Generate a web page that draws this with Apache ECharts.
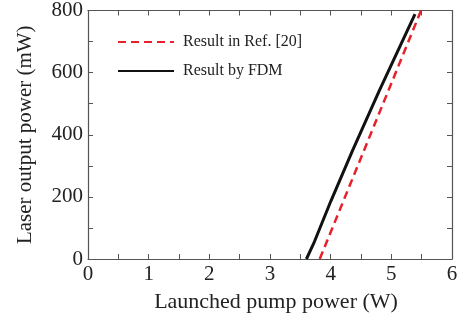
<!DOCTYPE html>
<html>
<head>
<meta charset="utf-8">
<script src="https://cdn.jsdelivr.net/npm/echarts@6/dist/echarts.min.js"></script>
<style>
  html,body{margin:0;padding:0;background:#fff;}
  #chart{width:469px;height:320px;}
</style>
</head>
<body>
<div id="chart"></div>
<script>
  // data
  const refPts = [[3.82, 0], [5.49, 800]];
  const fdmPts = [[3.60, 0], [3.72, 50], [4.00, 185], [4.36, 349], [4.80, 541], [5.39, 788]];
  const seriesNames = ['Result in Ref. [20]', 'Result by FDM'];
  const xName = 'Launched pump power (W)';
  const yName = 'Laser output power (mW)';

  const font = '"Liberation Serif", "DejaVu Serif", serif';
  const axisCol = '#555';

  const chart = echarts.init(document.getElementById('chart'));
  const tick = {show:true, inside:true, length:5, lineStyle:{color:axisCol, width:1}};
  const line = {show:true, onZero:false, lineStyle:{color:axisCol, width:1.2}};

  chart.setOption({
    animation:false,
    grid:{left:88, right:17, top:9, bottom:61},
    legend:{
      orient:'vertical', left:112, top:29, itemWidth:56, itemHeight:14, itemGap:13,
      itemStyle:{opacity:0},
      textStyle:{fontFamily:font, fontSize:16, color:'#222', padding:[0,0,0,4]},
      data:seriesNames
    },
    xAxis:[{
      type:'value', min:0, max:6, interval:0.5,
      name:xName, nameLocation:'middle', nameGap:32,
      nameTextStyle:{fontFamily:font, fontSize:22, color:'#222', padding:[0,0,0,12]},
      axisLine:line, axisTick:tick, splitLine:{show:false},
      axisLabel:{fontFamily:font, fontSize:21, color:'#222', margin:5,
        formatter:v => Number.isInteger(v) ? String(v) : ''}
    },{
      type:'value', position:'top', min:0, max:6, interval:0.5,
      axisLine:line, axisTick:tick, axisLabel:{show:false}, splitLine:{show:false}
    }],
    yAxis:[{
      type:'value', min:0, max:800, interval:100,
      name:yName, nameLocation:'middle', nameGap:52,
      nameTextStyle:{fontFamily:font, fontSize:21, color:'#222'},
      axisLine:line, axisTick:tick, splitLine:{show:false},
      axisLabel:{fontFamily:font, fontSize:21, color:'#222', margin:5,
        formatter:v => v % 200 === 0 ? String(v) : ''}
    },{
      type:'value', position:'right', min:0, max:800, interval:100,
      axisLine:line, axisTick:tick, axisLabel:{show:false}, splitLine:{show:false}
    }],
    series:[{
      name:seriesNames[0], type:'line', data:refPts, symbol:'none', clip:true,
      itemStyle:{color:'#e8202a'},
      lineStyle:{color:'#e8202a', width:2.5, type:[8,5]}
    },{
      name:seriesNames[1], type:'line', data:fdmPts, symbol:'none', clip:true,
      itemStyle:{color:'#111'},
      lineStyle:{color:'#111', width:3}
    }]
  });
</script>
</body>
</html>
